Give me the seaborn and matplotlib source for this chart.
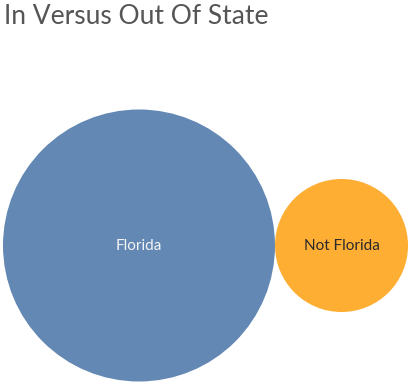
import matplotlib
matplotlib.use("Agg")
import matplotlib.pyplot as plt
import numpy as np
import pandas as pd
import seaborn as sns

# ==================== DATA ====================
categories = ["Florida", "Not Florida"]
counts = [418, 100]
colors = ["#6388b4", "#ffae34"]
label_colors = ["#f4f4f4", "#2a2a2a"]

W, H, DPI = 413, 388, 100

sns.set_style("white")
plt.rcParams["font.family"] = ["Lato", "DejaVu Sans"]

fig = plt.figure(figsize=(W / DPI, H / DPI), dpi=DPI)
ax = fig.add_axes([0, 0, 1, 1])
ax.set_xlim(0, W)
ax.set_ylim(H, 0)
ax.axis("off")

# ==================== PACK BUBBLES ====================
# radius proportional to sqrt(count); the biggest bubble is 136 px
radii = 136 * np.sqrt(np.array(counts) / max(counts))
xs = [3 + radii[0]]
for i in range(1, len(radii)):
    xs.append(xs[-1] + radii[i - 1] + radii[i])
ys = [245.5] * len(radii)

df = pd.DataFrame({"cat": categories, "count": counts, "x": xs, "y": ys})
# scatter size is diameter^2 in points
sizes = {c: (2 * r * 72 / DPI) ** 2 for c, r in zip(categories, radii)}

sns.scatterplot(data=df, x="x", y="y", hue="cat", size="cat",
                sizes=sizes, palette=dict(zip(categories, colors)),
                linewidth=0, legend=False, ax=ax)

for c, x, y, lc in zip(categories, xs, ys, label_colors):
    ax.text(x, y, c, ha="center", va="center", fontsize=11, color=lc)

fig.text(4 / W, 1 - 4 / H, "In Versus Out Of State", ha="left", va="top",
         fontsize=19, color="#555555", fontweight="normal")

fig.savefig("out.png", dpi=DPI)
